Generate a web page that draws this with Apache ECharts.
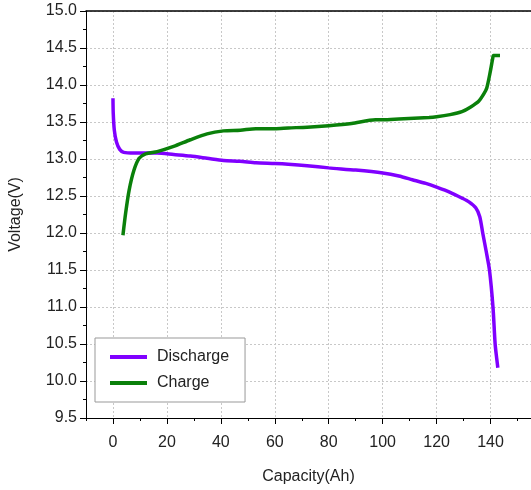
<!DOCTYPE html>
<html>
<head>
<meta charset="utf-8">
<script src="https://cdn.jsdelivr.net/npm/echarts@6/dist/echarts.min.js"></script>
<style>
html,body{margin:0;padding:0;background:#fff;}
#chart{width:531px;height:490px;}
</style>
</head>
<body>
<div id="chart"></div>
<script>
var dischargeCap = [0, 0.1, 0.5, 1.3, 2.5, 4, 7.8, 12, 16.4, 22.5, 28.7, 34.9, 41, 47, 53, 60, 65, 72, 80, 90, 100, 106, 111, 116, 120, 125, 129.5, 132, 134.5, 136, 137.1, 138.4, 139.6, 140.9, 141.7, 142.3, 142.7];
var dischargeV = [13.82, 13.62, 13.39, 13.23, 13.13, 13.09, 13.08, 13.08, 13.08, 13.06, 13.04, 13.01, 12.98, 12.97, 12.95, 12.94, 12.93, 12.91, 12.88, 12.85, 12.81, 12.77, 12.72, 12.67, 12.62, 12.55, 12.47, 12.42, 12.34, 12.22, 12.0, 11.75, 11.5, 11.0, 10.5, 10.3, 10.18];
var chargeCap = [3.7, 4.7, 6.0, 7.8, 9.7, 12.1, 16.4, 22.5, 28.7, 34.9, 41, 47.2, 53, 60, 65, 72, 80, 88.5, 97.3, 100, 106, 117.2, 120, 125, 129.4, 132.5, 135.6, 137.5, 138.6, 139.9, 140.8, 141.1, 143.5];
var chargeV = [11.97, 12.27, 12.58, 12.85, 13.01, 13.07, 13.10, 13.17, 13.26, 13.34, 13.38, 13.39, 13.41, 13.41, 13.42, 13.43, 13.45, 13.48, 13.53, 13.53, 13.54, 13.56, 13.57, 13.60, 13.64, 13.70, 13.78, 13.88, 13.96, 14.18, 14.36, 14.40, 14.40];
var xTickLabels = [0, 20, 40, 60, 80, 100, 120, 140];
var seriesNames = ['Discharge', 'Charge'];

function pairs(xs, ys) { return xs.map(function (x, i) { return [x, ys[i]]; }); }

var FONT = '"Liberation Sans", Arial, sans-serif';
var gridLine = { show: true, lineStyle: { color: '#c8c8c8', type: [2, 2], width: 1 } };

var chart = echarts.init(document.getElementById('chart'), null, { renderer: 'canvas' });
chart.setOption({
  backgroundColor: '#ffffff',
  animation: false,
  textStyle: { fontFamily: FONT },
  grid: { left: 85, right: -1, top: 11, bottom: 72, containLabel: false },
  legend: {
    orient: 'vertical',
    left: 95, top: 338,
    padding: [11, 16, 11, 15],
    icon: 'rect',
    itemWidth: 37, itemHeight: 4, itemGap: 10,
    borderColor: '#999', borderWidth: 1, backgroundColor: '#fff',
    textStyle: { fontSize: 16, color: '#222', fontFamily: FONT, padding: [0, 0, 0, 5] },
    data: seriesNames
  },
  xAxis: [
    {
      type: 'value', min: -10, max: 155, interval: 10, position: 'bottom',
      axisLine: { show: true, onZero: false, lineStyle: { color: '#000', width: 1 } },
      axisTick: { show: true, inside: false, length: 3, lineStyle: { color: '#000' } },
      axisLabel: { show: false },
      splitLine: { show: false }
    },
    {
      type: 'value', min: -10, max: 155, position: 'bottom',
      name: 'Capacity(Ah)', nameLocation: 'middle', nameGap: 51,
      nameTextStyle: { fontSize: 16, color: '#222', fontFamily: FONT },
      axisLine: { show: false, onZero: false },
      axisTick: { show: true, inside: false, length: 6, customValues: xTickLabels, lineStyle: { color: '#000' } },
      axisLabel: { show: true, customValues: xTickLabels, fontSize: 16, color: '#222', margin: 17, fontFamily: FONT },
      splitLine: gridLine
    },
    {
      type: 'value', min: -10, max: 155, position: 'top',
      axisLine: { show: true, onZero: false, lineStyle: { color: '#000', width: 1.5 } },
      axisTick: { show: false }, axisLabel: { show: false }, splitLine: { show: false }
    }
  ],
  yAxis: {
    type: 'value', min: 9.5, max: 15, interval: 0.5,
    name: 'Voltage(V)', nameLocation: 'middle', nameGap: 62,
    nameTextStyle: { fontSize: 16, color: '#222', fontFamily: FONT },
    axisLine: { show: true, onZero: false, lineStyle: { color: '#000', width: 1 } },
    axisTick: { show: true, inside: false, length: 6, lineStyle: { color: '#000' } },
    minorTick: { show: true, splitNumber: 2, length: 3, lineStyle: { color: '#000' } },
    axisLabel: { fontSize: 16, color: '#222', margin: 9, fontFamily: FONT,
      formatter: function (v) { return v.toFixed(1); } },
    splitLine: gridLine
  },
  series: [
    {
      name: seriesNames[0], type: 'line', xAxisIndex: 0, yAxisIndex: 0,
      data: pairs(dischargeCap, dischargeV),
      symbol: 'none', showSymbol: false, smooth: 0.25,
      lineStyle: { color: '#8000ff', width: 3.5 }, itemStyle: { color: '#8000ff' }
    },
    {
      name: seriesNames[1], type: 'line', xAxisIndex: 0, yAxisIndex: 0,
      data: pairs(chargeCap, chargeV),
      symbol: 'none', showSymbol: false, smooth: 0.25,
      lineStyle: { color: '#0a800a', width: 3.5 }, itemStyle: { color: '#0a800a' }
    }
  ]
});
</script>
</body>
</html>
